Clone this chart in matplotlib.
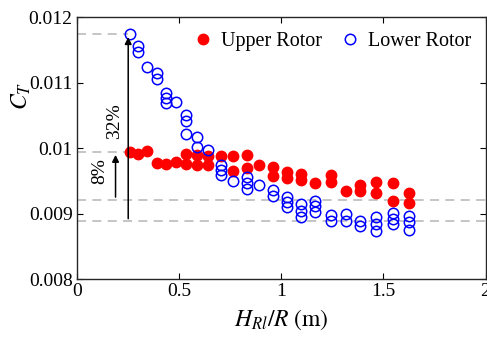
import numpy as np
from matplotlib import pyplot as plt

plt.rcParams['font.family'] = ['Liberation Serif', 'DejaVu Serif']
plt.rcParams['mathtext.fontset'] = 'stix'

# rotor spacing H_Rl/R and thrust coefficient
upper_x = [0.263, 0.302, 0.346, 0.392, 0.438, 0.487,
           0.534, 0.534, 0.590, 0.590, 0.644, 0.644,
           0.705, 0.763, 0.763, 0.831, 0.831, 0.890,
           0.961, 0.961, 1.029, 1.029, 1.095, 1.095,
           1.168, 1.242, 1.242, 1.317, 1.388, 1.388,
           1.466, 1.466, 1.549, 1.549, 1.627, 1.627]
upper_ct = [0.009945, 0.00991, 0.00996, 0.009768, 0.009757, 0.009787,
            0.009905, 0.009757, 0.009894, 0.009742, 0.009887, 0.009749,
            0.009879, 0.009879, 0.00965, 0.009894, 0.009703, 0.009742,
            0.009716, 0.009581, 0.009635, 0.009538, 0.009609, 0.009512,
            0.009466, 0.009584, 0.009482, 0.009344, 0.00944, 0.009352,
            0.009482, 0.009321, 0.009462, 0.009196, 0.009309, 0.009165]

lower_x = [0.263, 0.302, 0.302, 0.346, 0.392, 0.392,
           0.438, 0.438, 0.438, 0.487,
           0.534, 0.534, 0.534, 0.590, 0.590, 0.644,
           0.705, 0.705, 0.705, 0.763,
           0.831, 0.831, 0.831, 0.890, 0.961, 0.961,
           1.029, 1.029, 1.029, 1.095, 1.095, 1.095,
           1.168, 1.168, 1.168, 1.242, 1.242, 1.317, 1.317,
           1.388, 1.388, 1.466, 1.466, 1.466,
           1.549, 1.549, 1.549, 1.627, 1.627, 1.627]
lower_ct = [0.011745, 0.011569, 0.011465, 0.011235, 0.011144, 0.011052,
            0.010847, 0.010761, 0.010685, 0.0107,
            0.010506, 0.010414, 0.010216, 0.010165, 0.010021, 0.009966,
            0.009742, 0.009665, 0.009589, 0.009502,
            0.009558, 0.009462, 0.009375, 0.009436, 0.009367, 0.009268,
            0.00926, 0.009183, 0.009107, 0.009145, 0.009046, 0.008951,
            0.009196, 0.009115, 0.009031, 0.008985, 0.008893, 0.008997, 0.008893,
            0.008893, 0.008817, 0.008951, 0.008839, 0.008735,
            0.009008, 0.00892, 0.008844, 0.008969, 0.00887, 0.008752]

# reference levels for the percentage arrows
lower_max, lower_min = 0.01174, 0.00888
upper_max, upper_min = 0.00994, 0.00921

fig = plt.figure(figsize=(4.87, 3.37), dpi=100)
ax = fig.add_axes([0.1575, 0.172, 0.8395, 0.7765])

grey = '#c0c0c0'
ax.plot([0, 0.25], [lower_max, lower_max], '--', color=grey, lw=1.3, dashes=(5, 3.5))
ax.plot([0, 0.25], [upper_max, upper_max], '--', color=grey, lw=1.3, dashes=(5, 3.5))
ax.plot([0, 2], [upper_min, upper_min], '--', color=grey, lw=1.3, dashes=(5, 3.5))
ax.plot([0, 2], [lower_min, lower_min], '--', color=grey, lw=1.3, dashes=(5, 3.5))

ax.plot(upper_x, upper_ct, 'o', color='red', mec='red', ms=7.5, ls='none', label='Upper Rotor')
ax.plot(lower_x, lower_ct, 'o', mfc='none', mec='blue', mew=1.1, ms=7.5, ls='none', label='Lower Rotor')

ax.annotate('', xy=(0.252, lower_max), xytext=(0.252, lower_min),
            arrowprops=dict(arrowstyle='-|>', color='k', lw=1.1, mutation_scale=10))
ax.annotate('', xy=(0.19, upper_max), xytext=(0.19, upper_min),
            arrowprops=dict(arrowstyle='-|>', color='k', lw=1.1, mutation_scale=10))
ax.text(0.184, 0.01041, '32%', rotation=90, ha='center', va='center', fontsize=14)
ax.text(0.115, 0.00965, '8%', rotation=90, ha='center', va='center', fontsize=14)

ax.set_xlim(0, 2)
ax.set_ylim(0.008, 0.012)
ax.set_xticks([0, 0.5, 1, 1.5, 2])
ax.set_xticklabels(['0', '0.5', '1', '1.5', '2'])
ax.set_yticks([0.008, 0.009, 0.01, 0.011, 0.012])
ax.set_yticklabels(['0.008', '0.009', '0.01', '0.011', '0.012'])
ax.tick_params(direction='in', top=True, right=True, length=4, width=0.8, labelsize=14, pad=3)
for s in ax.spines.values():
    s.set_linewidth(1.0)
    s.set_color('#262626')

ax.set_xlabel('$H_{Rl}/R\\ (\\mathrm{m})$', fontsize=17, labelpad=5)
ax.set_ylabel('$C_T$', fontsize=17)
ax.yaxis.set_label_coords(-0.108, 0.7)

ax.legend(loc='upper right', ncol=2, frameon=False, fontsize=14.5, handletextpad=0.3,
          columnspacing=0.8, borderaxespad=0.3, handlelength=1.2)

plt.savefig('out.png', dpi=100)
